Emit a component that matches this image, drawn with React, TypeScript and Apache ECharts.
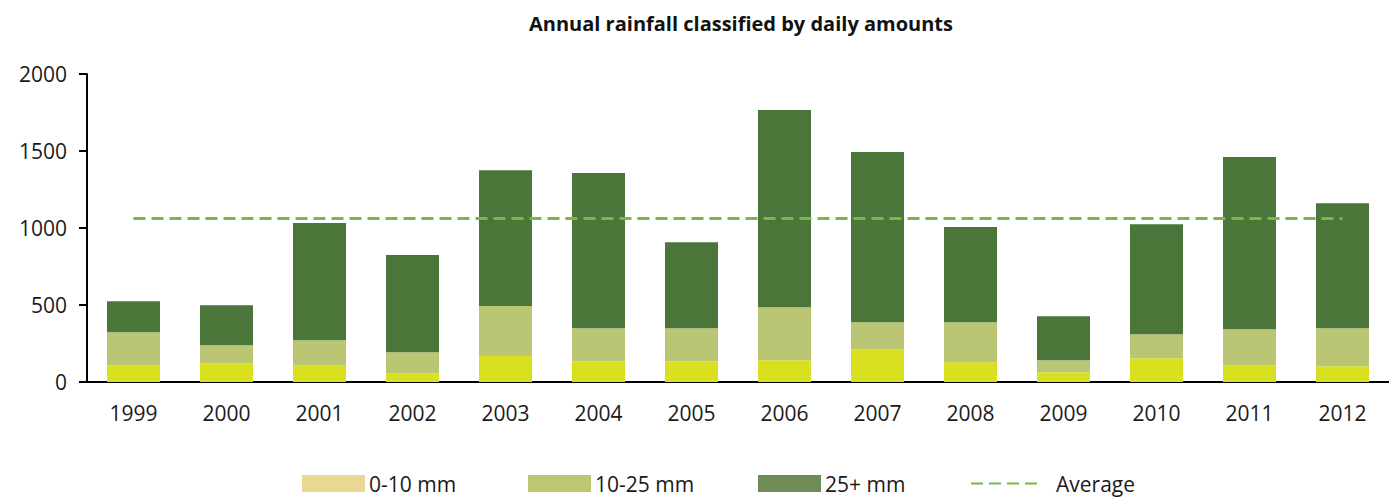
import React, { useEffect, useRef } from "react";
import * as echarts from "echarts";

const years = ["1999","2000","2001","2002","2003","2004","2005","2006","2007","2008","2009","2010","2011","2012"];
const low = [108,121,108,56,169,134,134,141,213,128,63,154,108,102];
const mid = [215,118,163,137,325,215,215,344,175,260,78,156,234,247];
const high = [202,259,761,631,881,1008,559,1281,1105,618,286,715,1119,812];
const average = [1062,1062,1062,1062,1062,1062,1062,1062,1062,1062,1062,1062,1062,1062];
const yTicks = [0, 500, 1000, 1500, 2000];

const FONT = "Open Sans";

export default function App() {
  const ref = useRef<HTMLDivElement>(null);
  useEffect(() => {
    if (!ref.current) return;
    const chart = echarts.init(ref.current, null, { renderer: "svg" });
    const legendText = { fontFamily: FONT, fontSize: 21, color: "#1a1a1a", padding: [0, 0, 0, -1] };
    const mkLegend = (name: string, left: number, color: string) => ({
      data: [{ name, icon: "rect", itemStyle: { color } }],
      left,
      top: 473,
      padding: 0,
      itemWidth: 63,
      itemHeight: 17,
      textStyle: legendText,
      selectedMode: false,
    });
    chart.setOption({
      animation: false,
      backgroundColor: "#ffffff",
      title: {
        text: "Annual rainfall classified by daily amounts",
        left: 524,
        top: 8,
        textStyle: { fontFamily: FONT, fontSize: 20, fontWeight: "bold", color: "#111" },
      },
      grid: { left: 87, right: -4, top: 74, bottom: 115, containLabel: false },
      legend: [
        mkLegend("0-10 mm", 302, "#E8D893"),
        mkLegend("10-25 mm", 528, "#BCC673"),
        mkLegend("25+ mm", 758, "#6E8C58"),
        {
          data: [{ name: "Average", itemStyle: { color: "transparent", opacity: 0, borderWidth: 0 } }],
          left: 970,
          top: 473,
          padding: 0,
          itemWidth: 68,
          itemHeight: 17,
          textStyle: { ...legendText, padding: [0, 0, 0, 12] },
          selectedMode: false,
        },
      ],
      xAxis: {
        type: "category",
        data: years,
        axisLine: { lineStyle: { color: "#000", width: 2 } },
        axisTick: { length: 10, lineStyle: { color: "#000", width: 2 } },
        axisLabel: { fontFamily: FONT, fontSize: 21, color: "#1a1a1a", margin: 20 },
      },
      yAxis: {
        type: "value",
        min: 0,
        max: 2000,
        interval: 500,
        axisLine: { show: true, lineStyle: { color: "#000", width: 2 } },
        axisTick: { show: true, length: 8, lineStyle: { color: "#000", width: 2 } },
        splitLine: { show: false },
        axisLabel: {
          fontFamily: FONT,
          fontSize: 21,
          color: "#1a1a1a",
          margin: 20,
          formatter: (v: number) => (yTicks.includes(v) ? String(v) : ""),
        },
      },
      series: [
        { name: "0-10 mm", type: "bar", stack: "t", data: low, barWidth: 53, itemStyle: { color: "#D8E020" } },
        { name: "10-25 mm", type: "bar", stack: "t", data: mid, barWidth: 53, itemStyle: { color: "#BBC674" } },
        { name: "25+ mm", type: "bar", stack: "t", data: high, barWidth: 53, itemStyle: { color: "#4A763A" } },
        {
          name: "Average",
          type: "line",
          data: average,
          symbol: "none",
          showSymbol: false,
          z: 5,
          lineStyle: { color: "#78B84A", width: 3, type: [12, 6] },
          itemStyle: { color: "#78B84A" },
        },
      ],
    });
    return () => chart.dispose();
  }, []);
  return <div ref={ref} style={{ position: "absolute", left: 0, top: 0, width: 1389, height: 497 }} />;
}
